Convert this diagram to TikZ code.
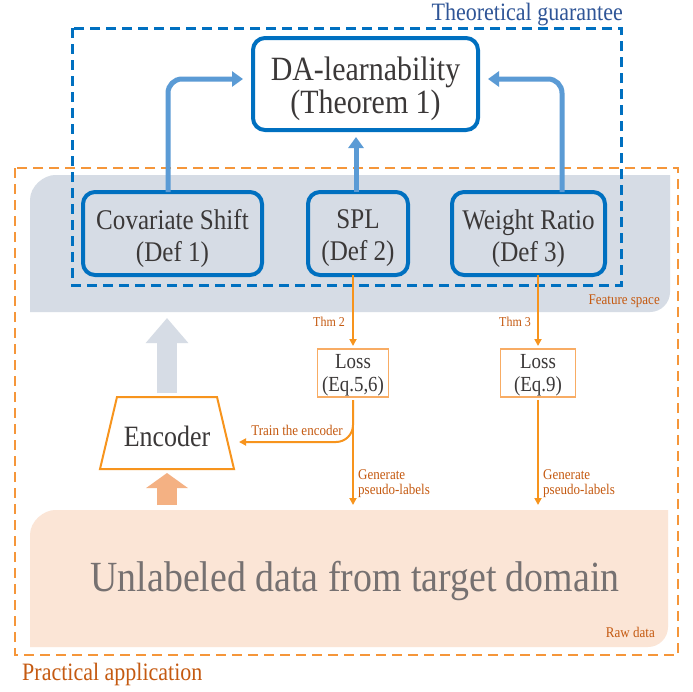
\documentclass[tikz,border=0pt]{standalone}
\usepackage{fontspec}
\setmainfont[FakeStretch=0.88]{Liberation Serif}
\usetikzlibrary{arrows.meta,calc}
\definecolor{bdark}{HTML}{0070C0}
\definecolor{blight}{HTML}{5B9BD5}
\definecolor{featgray}{HTML}{D6DCE5}
\definecolor{rawfill}{HTML}{FBE5D6}
\definecolor{orng}{HTML}{F7941D}
\definecolor{orngdash}{HTML}{F5963A}
\definecolor{lossb}{HTML}{F8AC64}
\definecolor{bigorng}{HTML}{F4B183}
\definecolor{labtxt}{HTML}{C55A11}
\definecolor{txt}{HTML}{3B3838}
\definecolor{titleblue}{HTML}{2F5597}
\definecolor{rawtxt}{HTML}{767171}
\begin{document}
\begin{tikzpicture}[x=1pt,y=-1pt,
  defbox/.style={draw=bdark, line width=4pt, rounded corners=12pt,
    inner sep=0pt, outer sep=0pt, minimum height=83pt},
  boxtext/.style={text=txt, align=center, inner sep=0pt, font=\fontsize{28.5}{32}\selectfont},
  lossbox/.style={draw=lossb, line width=1.3pt, inner sep=0pt,
    outer sep=0pt, minimum width=71pt, minimum height=48pt},
  losstext/.style={text=txt, align=center, inner sep=0pt, font=\fontsize{21.5}{23}\selectfont},
  barrow/.style={draw=blight, line width=5pt, rounded corners=14pt,
    -{Triangle[length=11pt,width=15pt]}},
  oarrow/.style={draw=orng, line width=2pt, -{Triangle[length=7pt,width=7pt]}},
  smalllab/.style={text=labtxt, font=\fontsize{14.8}{15}\selectfont, inner sep=0pt},
  biglab/.style={text=labtxt, font=\fontsize{25}{27}\selectfont, inner sep=0pt}]
\useasboundingbox (0,0) rectangle (693,691);
\fill[white] (0,0) rectangle (693,691);
% regions
\fill[featgray] (30,312) -- (30,200) .. controls (30,186) and (44,175) .. (55,175) -- (670,175)
  -- (670,292) .. controls (670,303) and (661,312) .. (650,312) -- cycle;
\fill[rawfill] (30,647) -- (30,535) .. controls (30,521) and (44,510) .. (55,510) -- (668,510)
  -- (668,627) .. controls (668,638) and (659,647) .. (648,647) -- cycle;
\draw[orngdash, line width=2.2pt, dash pattern=on 10pt off 6pt] (15,168) rectangle (678,655);
\draw[bdark, line width=3pt, dash pattern=on 10pt off 6pt] (72,28) rectangle (621,285);
\coordinate (rawtop) at (0,510);
% labels of regions
\node[text=titleblue, font=\fontsize{25}{27}\selectfont, inner sep=0pt, anchor=base east] (tg) at (623,20) {Theoretical guarantee};
\node[biglab, anchor=base west] (pa) at (22,680) {Practical application};
\node[smalllab, anchor=base east] (fs) at (660,304) {Feature space};
\node[smalllab, anchor=base east] (rd) at (655,637) {Raw data};
\node[text=rawtxt, font=\fontsize{43}{45}\selectfont, inner sep=0pt] (raw) at (355,581) {Unlabeled data from target domain};
% boxes
\node[defbox, minimum width=225pt, minimum height=92pt] (da) at (365.5,84) {};
\node[boxtext, font=\fontsize{34}{33}\selectfont] (dat) at ($(da.center)+(0,5)$) {DA-learnability\\(Theorem 1)};
\node[defbox, minimum width=179pt] (cov) at (172.5,233.5) {};
\node[boxtext] (covt) at ($(cov.center)+(0,5)$) {Covariate Shift\\(Def 1)};
\node[defbox, minimum width=100pt] (spl) at (358,233.5) {};
\node[boxtext] (splt) at ($(spl.center)+(0,5)$) {SPL\\(Def 2)};
\node[defbox, minimum width=153pt] (wr) at (528.5,233.5) {};
\node[boxtext] (wrt) at ($(wr.center)+(0,5)$) {Weight Ratio\\(Def 3)};
\node[lossbox] (loss1) at (353,373) {};
\node[losstext] (loss1t) at ($(loss1.center)+(0,2)$) {Loss\\(Eq.5,6)};
\node[lossbox, minimum width=75pt] (loss2) at (538,373) {};
\node[losstext] (loss2t) at ($(loss2.center)+(0,2)$) {Loss\\(Eq.9)};
% encoder
\node[minimum width=134pt, minimum height=72pt, inner sep=0pt, outer sep=0pt] (enc) at (167,433) {};
\draw[orng, line width=2pt, line join=miter] ($(enc.north)+(-50,0)$) -- ($(enc.north)+(50,0)$)
  -- ($(enc.south east)$) -- ($(enc.south west)$) -- cycle;
\node[text=txt, font=\fontsize{29.5}{31}\selectfont, inner sep=0pt] (enct) at ($(enc.center)+(0,3)$) {Encoder};
% blue arrows
\draw[barrow] ([xshift=-4.5pt]cov.north) |- ([yshift=5pt,xshift=-10pt]da.west);
\draw[barrow] ([xshift=33.5pt]wr.north) |- ([yshift=5pt,xshift=10pt]da.east);
\draw[barrow] ([xshift=-2pt]spl.north) -- ($(spl.north |- da.south)+(-2,7)$);
% orange arrows
\draw[oarrow, shorten >=3pt] ([xshift=-5pt]spl.south) -- (loss1.north);
\draw[oarrow, shorten >=3pt] ([xshift=9.5pt]wr.south) -- (loss2.north);
\node[smalllab, font=\fontsize{13.6}{15}\selectfont, anchor=base east] (t2) at (345,326) {Thm 2};
\node[smalllab, font=\fontsize{13.6}{15}\selectfont, anchor=base east] (t3) at (531,326) {Thm 3};
\coordinate (trainend) at (239,442);
\draw[oarrow, rounded corners=17pt] ([yshift=-3pt]loss1.south) |- (trainend);
\draw[oarrow, shorten <=3pt, shorten >=5pt] (loss1.south) -- (loss1.south |- rawtop);
\draw[oarrow, shorten <=3pt, shorten >=5pt] (loss2.south) -- (loss2.south |- rawtop);
\node[smalllab, anchor=base] (tr) at (297,435) {Train the encoder};
\node[smalllab, align=left, anchor=north west] (g1) at (358,469) {Generate\\pseudo-labels};
\node[smalllab, align=left, anchor=north west] (g2) at (543,469) {Generate\\pseudo-labels};
% big arrows
\draw[featgray, line width=20pt, -{Triangle[length=25pt,width=41pt]}] ([yshift=4pt]enc.north) -- ++(0,-75);
\draw[bigorng, line width=20pt, -{Triangle[length=15pt,width=41pt]}] ($(enc.south |- rawtop)+(0,-5)$) -- ($(enc.south)+(0,4)$);
\end{tikzpicture}
\end{document}
